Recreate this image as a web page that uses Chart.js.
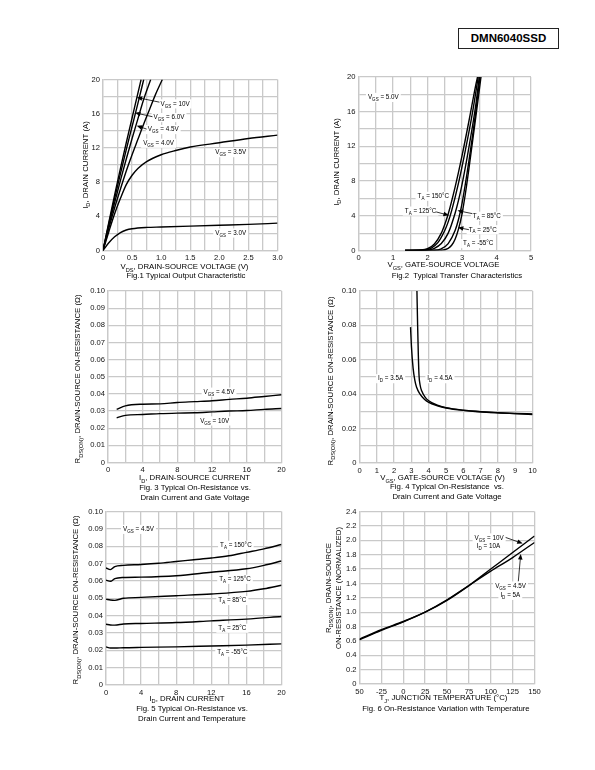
<!DOCTYPE html>
<html><head><meta charset="utf-8">
<script src="https://cdn.jsdelivr.net/npm/chart.js@4.4.1/dist/chart.umd.min.js"></script>
<style>
html,body{margin:0;padding:0;background:#fff}
body{width:595px;height:770px;position:relative;overflow:hidden;font-family:'Liberation Sans',Arial,sans-serif;color:#000}
canvas{position:absolute}
.hdr{position:absolute;left:458px;top:28px;width:99px;height:19px;border:1.4px solid #222;font-weight:bold;font-size:11.5px;line-height:19px;text-align:center}
.cap{position:absolute;width:240px;text-align:center;font-size:7.8px;line-height:9.6px;white-space:nowrap}
</style></head>
<body>
<div class="hdr">DMN6040SSD</div>
<canvas id="c1"></canvas><canvas id="c2"></canvas><canvas id="c3"></canvas>
<canvas id="c4"></canvas><canvas id="c5"></canvas><canvas id="c6"></canvas>
<div class="cap" style="left:66px;top:271px">Fig.1 Typical Output Characteristic</div>
<div class="cap" style="left:337px;top:271px">Fig.2&nbsp; Typical Transfer Characteristics</div>
<div class="cap" style="left:75px;top:483px">Fig. 3 Typical On-Resistance vs.<br>Drain Current and Gate Voltage</div>
<div class="cap" style="left:327px;top:482px">Fig. 4 Typical On-Resistance&nbsp; vs.<br>Drain Current and Gate Voltage</div>
<div class="cap" style="left:72px;top:704px">Fig. 5 Typical On-Resistance vs.<br>Drain Current and Temperature</div>
<div class="cap" style="left:326px;top:704px">Fig. 6 On-Resistance Variation with Temperature</div>
<script>
// ===== Fig.1 Typical Output Characteristic: [VDS (V), ID (A)]
const fig1_vgs10  = [[0,0],[0.1,3.3],[0.2,6.5],[0.3,9.6],[0.4,12.6],[0.5,15.5],[0.6,18.4],[0.655,20]];
const fig1_vgs6   = [[0,0],[0.1,3.1],[0.2,6.1],[0.3,9.0],[0.4,11.8],[0.5,14.5],[0.6,17.2],[0.7,20]];
const fig1_vgs45  = [[0,0],[0.1,2.9],[0.2,5.6],[0.3,8.2],[0.4,10.7],[0.5,13.1],[0.6,15.4],[0.7,17.7],[0.82,20]];
const fig1_vgs4   = [[0,0],[0.1,2.6],[0.2,5.0],[0.3,7.2],[0.4,9.3],[0.5,11.2],[0.6,13.0],[0.7,14.8],[0.8,16.5],[0.9,18.2],[1.02,20]];
const fig1_vgs35  = [[0,0],[0.1,2.2],[0.2,4.3],[0.3,6.1],[0.4,7.7],[0.5,8.8],[0.6,9.6],[0.75,10.4],[1.0,11.2],[1.25,11.7],[1.5,12.1],[2.0,12.6],[2.5,13.1],[3.0,13.5]];
const fig1_vgs3   = [[0,0],[0.1,0.9],[0.2,1.6],[0.3,2.1],[0.4,2.4],[0.5,2.55],[0.75,2.7],[1.0,2.75],[1.5,2.85],[2.0,2.95],[2.5,3.05],[3.0,3.2]];
const fig1_xTicks = [0,0.5,1.0,1.5,2.0,2.5,3.0];
const fig1_xText  = ['0','0.5','1.0','1.5','2.0','2.5','3.0'];
const fig1_yTicks = [0,4,8,12,16,20];

// ===== Fig.2 Typical Transfer Characteristics: [VGS (V), ID (A)]
const fig2_t150 = [[1.35,0],[1.8,0.05],[2.0,0.2],[2.2,0.75],[2.4,2.0],[2.5,3.0],[2.6,4.2],[2.8,7.3],[3.0,10.9],[3.2,14.9],[3.4,19.1],[3.45,20]];
const fig2_t125 = [[1.35,0],[1.9,0.05],[2.1,0.25],[2.3,0.9],[2.5,2.3],[2.6,3.3],[2.7,4.6],[2.9,7.8],[3.1,11.6],[3.3,15.8],[3.47,20]];
const fig2_t85  = [[1.35,0],[2.0,0.05],[2.2,0.25],[2.4,0.8],[2.6,2.0],[2.8,4.3],[2.9,5.8],[3.0,7.6],[3.2,11.9],[3.4,16.8],[3.5,20]];
const fig2_t25  = [[1.35,0],[2.2,0.03],[2.4,0.2],[2.6,0.8],[2.8,2.3],[2.9,3.6],[3.0,5.4],[3.2,10.3],[3.4,16.0],[3.52,20]];
const fig2_tm55 = [[1.35,0],[2.4,0.03],[2.6,0.25],[2.7,0.6],[2.8,1.3],[2.9,2.5],[3.0,4.2],[3.1,6.6],[3.2,9.4],[3.4,15.4],[3.55,20]];
const fig2_xTicks = [0,1,2,3,4,5];
const fig2_yTicks = [0,4,8,12,16,20];

// ===== Fig.3 On-Resistance vs Drain Current and Gate Voltage: [ID (A), RDS (ohm)]
const fig3_vgs45 = [[1,0.031],[2,0.033],[4,0.034],[6,0.0342],[8,0.035],[10,0.0355],[12,0.036],[14,0.0368],[16,0.0375],[18,0.0385],[20,0.0395]];
const fig3_vgs10 = [[1,0.026],[2,0.0275],[4,0.028],[6,0.0285],[8,0.0288],[10,0.029],[12,0.0295],[14,0.030],[16,0.0303],[18,0.031],[20,0.0315]];
const fig3_xTicks = [0,4,8,12,16,20];
const fig3_yTicks = [0,0.01,0.02,0.03,0.04,0.05,0.06,0.07,0.08,0.09,0.10];
const fig3_yText  = ['0','0.01','0.02','0.03','0.04','0.05','0.06','0.07','0.08','0.09','0.10'];

// ===== Fig.4 On-Resistance vs Gate Voltage: [VGS (V), RDS (ohm)]
const fig4_id35 = [[2.95,0.079],[3.0,0.068],[3.1,0.055],[3.2,0.048],[3.3,0.044],[3.5,0.040],[3.75,0.037],[4.0,0.0352],[4.5,0.0333],[5,0.032],[6,0.0306],[7,0.0298],[8,0.0292],[9,0.0288],[10,0.0285]];
const fig4_id45 = [[3.32,0.100],[3.36,0.080],[3.4,0.063],[3.44,0.051],[3.5,0.0455],[3.6,0.0418],[3.8,0.0382],[4.0,0.0362],[4.5,0.0336],[5,0.0322],[6,0.0307],[7,0.0298],[8,0.0292],[9,0.0287],[10,0.0282]];
const fig4_xTicks = [0,1,2,3,4,5,6,7,8,9,10];
const fig4_yTicks = [0,0.02,0.04,0.06,0.08,0.10];
const fig4_yText  = ['0','0.02','0.04','0.06','0.08','0.10'];

// ===== Fig.5 On-Resistance vs Drain Current and Temperature: [ID (A), RDS (ohm)]
const fig5_t150 = [[0,0.0675],[0.5,0.0665],[1,0.0683],[2,0.069],[4,0.0695],[6,0.0702],[8,0.0712],[10,0.0722],[12,0.0732],[14,0.0745],[16,0.0765],[18,0.0785],[20,0.081]];
const fig5_t125 = [[0,0.0605],[0.5,0.0598],[1,0.0613],[2,0.062],[4,0.0622],[8,0.063],[12,0.065],[16,0.067],[18,0.069],[20,0.0715]];
const fig5_t85  = [[0,0.0495],[0.5,0.049],[1,0.0488],[2,0.050],[4,0.0505],[8,0.0515],[12,0.0525],[16,0.054],[18,0.0555],[20,0.0575]];
const fig5_t25  = [[0,0.035],[0.5,0.0346],[1,0.0345],[2,0.0352],[4,0.0355],[8,0.036],[12,0.037],[16,0.038],[20,0.0395]];
const fig5_tm55 = [[0,0.022],[0.5,0.0213],[1,0.0213],[2,0.0215],[4,0.0217],[8,0.022],[12,0.0225],[16,0.023],[20,0.0237]];
const fig5_xTicks = [0,4,8,12,16,20];

// ===== Fig.6 On-Resistance vs Temperature: [TJ (°C), RDS normalized]
const fig6_vgs10 = [[-50,0.625],[-25,0.755],[0,0.87],[25,1.0],[50,1.165],[75,1.37],[100,1.6],[125,1.83],[150,2.06]];
const fig6_vgs45 = [[-50,0.615],[-25,0.745],[0,0.865],[25,1.0],[50,1.17],[75,1.37],[100,1.57],[125,1.76],[150,1.97]];
const fig6_xTicks = [-50,-25,0,25,50,75,100,125,150];
const fig6_xText  = ['50','-25','0','25','50','75','100','125','150'];
const fig6_yTicks = [0,0.2,0.4,0.6,0.8,1.0,1.2,1.4,1.6,1.8,2.0,2.2,2.4];
const fig6_yText  = ['0','0.2','0.4','0.6','0.8','1.0','1.2','1.4','1.6','1.8','2.0','2.2','2.4'];

const FONT = "'Liberation Sans', Arial, sans-serif";
const GRID = '#c9c9c9';

function parseRich(s){
  const parts=[]; const re=/_\{([^}]*)\}/g; let last=0,m;
  while((m=re.exec(s))){ if(m.index>last) parts.push([s.slice(last,m.index),0]); parts.push([m[1],1]); last=re.lastIndex; }
  if(last<s.length) parts.push([s.slice(last),0]);
  return parts;
}
function drawRich(ctx,s,x,y,align,size,bg){
  const parts=parseRich(s), sub=size*0.72; let w=0;
  parts.forEach(p=>{ctx.font=(p[1]?sub:size)+'px '+FONT; p.w=ctx.measureText(p[0]).width; w+=p.w;});
  let sx = align==='center'? x-w/2 : align==='right'? x-w : x;
  if(bg){ ctx.fillStyle='#fff'; ctx.fillRect(sx-2,y-size*0.65,w+4,size*1.45); }
  ctx.fillStyle='#000'; ctx.textAlign='left'; ctx.textBaseline='alphabetic';
  parts.forEach(p=>{ ctx.font=(p[1]?sub:size)+'px '+FONT; ctx.fillText(p[0],sx,y+size*0.36+(p[1]?size*0.3:0)); sx+=p.w; });
}
function tickCb(vals,texts){
  return v=>{ const i=vals.findIndex(t=>Math.abs(t-v)<1e-9); return i<0?'':(texts?texts[i]:String(vals[i])); };
}
function pts(a){ return a.map(p=>({x:p[0],y:p[1]})); }

function makeChart(id,c){
  const cv=document.getElementById(id);
  cv.width=c.box.w; cv.height=c.box.h;
  cv.style.left=c.box.x+'px'; cv.style.top=c.box.y+'px';
  const yW=18, xH=12;
  const pad={left:c.area.l-c.box.x-yW, top:c.area.t-c.box.y, right:c.box.x+c.box.w-c.area.r, bottom:c.box.y+c.box.h-c.area.b-xH};
  const plug={
    id:'annot'+id,
    beforeDatasetsDraw(ch){
      const ctx=ch.ctx, X=ch.scales.x, Y=ch.scales.y;
      ctx.save();
      (c.labels||[]).forEach(l=>drawRich(ctx,l.t,X.getPixelForValue(l.x),Y.getPixelForValue(l.y),l.a||'center',6.3,true));
      ctx.restore();
    },
    afterDatasetsDraw(ch){
      const ctx=ch.ctx, X=ch.scales.x, Y=ch.scales.y;
      ctx.save(); ctx.strokeStyle='#000'; ctx.fillStyle='#000'; ctx.lineWidth=0.8;
      (c.arrows||[]).forEach(a=>{
        const x0=X.getPixelForValue(a[0]), y0=Y.getPixelForValue(a[1]), x1=X.getPixelForValue(a[2]), y1=Y.getPixelForValue(a[3]);
        const ang=Math.atan2(y1-y0,x1-x0), L=5.5, W=2.3;
        ctx.beginPath(); ctx.moveTo(x0,y0); ctx.lineTo(x1-Math.cos(ang)*L*0.8,y1-Math.sin(ang)*L*0.8); ctx.stroke();
        ctx.beginPath(); ctx.moveTo(x1,y1);
        ctx.lineTo(x1-Math.cos(ang)*L-Math.sin(ang)*W, y1-Math.sin(ang)*L+Math.cos(ang)*W);
        ctx.lineTo(x1-Math.cos(ang)*L+Math.sin(ang)*W, y1-Math.sin(ang)*L-Math.cos(ang)*W);
        ctx.closePath(); ctx.fill();
      });
      ctx.restore();
    },
    afterDraw(ch){
      const ctx=ch.ctx; ctx.save();
      drawRich(ctx,c.xTitle,c.xt[0]-c.box.x,c.xt[1]-c.box.y,'center',7.8,false);
      c.yTitles.forEach((t,i)=>{
        ctx.save(); ctx.translate(c.yt[i][0]-c.box.x,c.yt[i][1]-c.box.y); ctx.rotate(-Math.PI/2);
        drawRich(ctx,t,0,0,'center',7.8,false); ctx.restore();
      });
      ctx.restore();
    }
  };
  const tickFont={size:7.6,family:FONT};
  new Chart(cv,{
    type:'scatter',
    data:{datasets:c.series.map(s=>({data:pts(s),showLine:true,borderColor:'#000',borderWidth:1.4,pointRadius:0,cubicInterpolationMode:'monotone',fill:false}))},
    options:{
      responsive:false, animation:false, devicePixelRatio:1,
      layout:{padding:pad},
      plugins:{legend:{display:false},tooltip:{enabled:false}},
      scales:{
        x:{type:'linear',min:c.x.min,max:c.x.max,
           ticks:{stepSize:c.x.step,autoSkip:false,maxRotation:0,padding:3,color:'#111',font:tickFont,callback:tickCb(c.x.ticks,c.x.text)},
           grid:{color:GRID,lineWidth:1.3,drawTicks:false}, border:{color:GRID,width:1.3},
           afterFit:s=>{s.height=xH;}},
        y:{type:'linear',min:c.y.min,max:c.y.max,
           ticks:{stepSize:c.y.step,autoSkip:false,padding:3,color:'#111',font:tickFont,callback:tickCb(c.y.ticks,c.y.text)},
           grid:{color:GRID,lineWidth:1.3,drawTicks:false}, border:{color:GRID,width:1.3},
           afterFit:s=>{s.width=yW;}}
      }
    },
    plugins:[plug]
  });
}

makeChart('c1',{
  box:{x:50,y:66,w:247,h:216}, area:{l:103,t:79.5,r:277.5,b:250.5},
  x:{min:0,max:3,step:0.25,ticks:fig1_xTicks,text:fig1_xText}, y:{min:0,max:20,step:2,ticks:fig1_yTicks},
  series:[fig1_vgs10,fig1_vgs6,fig1_vgs45,fig1_vgs4,fig1_vgs35,fig1_vgs3],
  labels:[{t:'V_{GS} = 10V',x:0.99,y:17.2,a:'left'},{t:'V_{GS} = 6.0V',x:0.87,y:15.6,a:'left'},{t:'V_{GS} = 4.5V',x:0.77,y:14.2,a:'left'},
          {t:'V_{GS} = 4.0V',x:0.69,y:12.6,a:'left'},{t:'V_{GS} = 3.5V',x:1.93,y:11.5,a:'left'},{t:'V_{GS} = 3.0V',x:1.93,y:2.1,a:'left'}],
  arrows:[[0.97,17.35,0.58,17.9],[0.85,15.65,0.55,16.1],[0.75,14.2,0.58,14.6]],
  xTitle:'V_{DS}, DRAIN-SOURCE VOLTAGE (V)', xt:[184.5,266.5],
  yTitles:['I_{D}, DRAIN CURRENT (A)'], yt:[[85,165]]
});
makeChart('c2',{
  box:{x:302,y:66,w:248,h:216}, area:{l:358.5,t:77,r:531,b:250.5},
  x:{min:0,max:5,step:0.5,ticks:fig2_xTicks}, y:{min:0,max:20,step:2,ticks:fig2_yTicks},
  series:[fig2_t150,fig2_t125,fig2_t85,fig2_t25,fig2_tm55],
  labels:[{t:'V_{GS} = 5.0V',x:0.72,y:17.7},{t:'T_{A} = 150°C',x:2.17,y:6.3},{t:'T_{A} = 125°C',x:1.8,y:4.6},
          {t:'T_{A} = 85°C',x:3.72,y:4.0},{t:'T_{A} = 25°C',x:3.6,y:2.45},{t:'T_{A} = -55°C',x:3.47,y:0.85}],
  arrows:[[2.25,4.45,2.62,4.05],[3.3,4.25,2.87,4.6],[3.2,2.4,2.88,2.65]],
  xTitle:'V_{GS}, GATE-SOURCE VOLTAGE', xt:[443.5,264.5],
  yTitles:['I_{D}, DRAIN CURRENT (A)'], yt:[[336,162]]
});
makeChart('c3',{
  box:{x:50,y:282,w:247,h:222}, area:{l:108,t:291,r:281.5,b:462.5},
  x:{min:0,max:20,step:2,ticks:fig3_xTicks}, y:{min:0,max:0.1,step:0.01,ticks:fig3_yTicks,text:fig3_yText},
  series:[fig3_vgs45,fig3_vgs10],
  labels:[{t:'V_{GS} = 4.5V',x:12.8,y:0.0413},{t:'V_{GS} = 10V',x:12.3,y:0.0245}],
  arrows:[],
  xTitle:'I_{D}, DRAIN-SOURCE CURRENT', xt:[194.5,477.5],
  yTitles:['R_{DS(ON)}, DRAIN-SOURCE ON-RESISTANCE (Ω)'], yt:[[77.5,379]]
});
makeChart('c4',{
  box:{x:302,y:282,w:248,h:222}, area:{l:359.5,t:291,r:532.5,b:463},
  x:{min:0,max:10,step:1,ticks:fig4_xTicks}, y:{min:0,max:0.1,step:0.01,ticks:fig4_yTicks,text:fig4_yText},
  series:[fig4_id35,fig4_id45],
  labels:[{t:'I_{D} = 3.5A',x:1.8,y:0.0493},{t:'I_{D} = 4.5A',x:4.65,y:0.0493}],
  arrows:[],
  xTitle:'V_{GS}, GATE-SOURCE VOLTAGE (V)', xt:[442.5,477.5],
  yTitles:['R_{DS(ON)}, DRAIN-SOURCE ON-RESISTANCE (Ω)'], yt:[[330,381]]
});
makeChart('c5',{
  box:{x:50,y:504,w:247,h:222}, area:{l:106,t:511.5,r:281.5,b:685},
  x:{min:0,max:20,step:2,ticks:fig5_xTicks}, y:{min:0,max:0.1,step:0.01,ticks:fig3_yTicks,text:fig3_yText},
  series:[fig5_t150,fig5_t125,fig5_t85,fig5_t25,fig5_tm55],
  labels:[{t:'V_{GS} = 4.5V',x:3.7,y:0.090},{t:'T_{A} = 150°C',x:14.8,y:0.0808},{t:'T_{A} = 125°C',x:14.7,y:0.0612},
          {t:'T_{A} = 85°C',x:14.4,y:0.049},{t:'T_{A} = 25°C',x:14.4,y:0.033},{t:'T_{A} = -55°C',x:14.4,y:0.0192}],
  arrows:[],
  xTitle:'I_{D}, DRAIN CURRENT', xt:[187,698],
  yTitles:['R_{DS(ON)}, DRAIN-SOURCE ON-RESISTANCE (Ω)'], yt:[[75.5,600]]
});
makeChart('c6',{
  box:{x:302,y:504,w:248,h:222}, area:{l:359.5,t:511.5,r:534.5,b:684},
  x:{min:-50,max:150,step:25,ticks:fig6_xTicks,text:fig6_xText}, y:{min:0,max:2.4,step:0.2,ticks:fig6_yTicks,text:fig6_yText},
  series:[fig6_vgs10,fig6_vgs45],
  labels:[{t:'V_{GS} = 10V',x:81.5,y:2.04,a:'left'},{t:'I_{D} = 10A',x:84,y:1.92,a:'left'},
          {t:'V_{GS} = 4.5V',x:105,y:1.37,a:'left'},{t:'I_{D} = 5A',x:111,y:1.24,a:'left'}],
  arrows:[[117,2.04,136.5,1.955],[131.5,1.43,134.3,1.81]],
  xTitle:'T_{J}, JUNCTION TEMPERATURE (°C)', xt:[443.5,697.5],
  yTitles:['R_{DS(ON)}, DRAIN-SOURCE','ON-RESISTANCE (NORMALIZED)'], yt:[[328,588],[338.5,588]]
});
</script>
</body></html>
